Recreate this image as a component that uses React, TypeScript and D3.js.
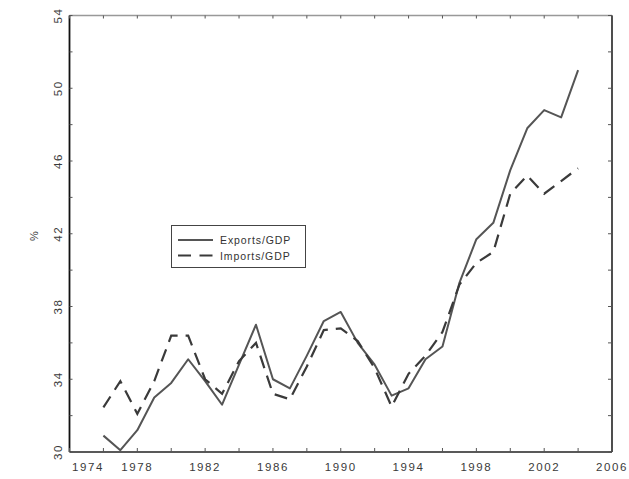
import React, { useRef, useEffect } from 'react';
import * as d3 from 'd3';

const years = [1976, 1977, 1978, 1979, 1980, 1981, 1982, 1983, 1984, 1985, 1986, 1987, 1988, 1989, 1990,
  1991, 1992, 1993, 1994, 1995, 1996, 1997, 1998, 1999, 2000, 2001, 2002, 2003, 2004];
const exportsGdp = [30.9, 30.1, 31.2, 33.0, 33.8, 35.1, 33.9, 32.6, 34.8, 37.0, 34.0, 33.5, 35.3, 37.2, 37.7,
  36.0, 34.8, 33.1, 33.5, 35.1, 35.8, 39.3, 41.7, 42.6, 45.5, 47.8, 48.8, 48.4, 51.0];
const importsGdp = [32.45, 33.9, 32.1, 33.9, 36.4, 36.4, 34.0, 33.2, 35.0, 36.0, 33.2, 32.9, 34.7, 36.7, 36.8,
  36.1, 34.6, 32.5, 34.3, 35.3, 36.6, 39.2, 40.4, 41.0, 44.2, 45.2, 44.2, 44.9, 45.6];
const xTickLabels = [1974, 1978, 1982, 1986, 1990, 1994, 1998, 2002, 2006];
const yTickLabels = [30, 34, 38, 42, 46, 50, 54];
const legendLabels = ['Exports/GDP', 'Imports/GDP'];

export default function App() {
  const ref = useRef<SVGSVGElement>(null);

  useEffect(() => {
    const width = 629;
    const height = 479;
    const m = { left: 69.5, right: 612, top: 15.5, bottom: 452 };
    const x = d3.scaleLinear().domain([1974, 2006]).range([m.left, m.right]);
    const y = d3.scaleLinear().domain([30, 54]).range([m.bottom, m.top]);

    const svg = d3.select(ref.current).attr('width', width).attr('height', height);
    svg.selectAll('*').remove();
    const g = svg.append('g').attr('font-family', '"Liberation Sans", "DejaVu Sans", sans-serif');

    // frame: dark left/bottom/right, light top
    g.append('line').attr('x1', m.left).attr('x2', m.right).attr('y1', m.top).attr('y2', m.top)
      .attr('stroke', '#999').attr('stroke-width', 1.3);
    g.append('line').attr('x1', m.left).attr('x2', m.left).attr('y1', m.top).attr('y2', m.bottom)
      .attr('stroke', '#111').attr('stroke-width', 1.8);
    g.append('line').attr('x1', m.right).attr('x2', m.right).attr('y1', m.top).attr('y2', m.bottom)
      .attr('stroke', '#222').attr('stroke-width', 1.6);
    g.append('line').attr('x1', m.left).attr('x2', m.right).attr('y1', m.bottom).attr('y2', m.bottom)
      .attr('stroke', '#222').attr('stroke-width', 1.6);

    const xMinor = d3.range(1974, 2007, 2);
    const yMinor = d3.range(30, 55, 2);
    const ticks = g.append('g').attr('stroke', '#555').attr('stroke-width', 1);
    xMinor.forEach(v => {
      ticks.append('line').attr('x1', x(v)).attr('x2', x(v)).attr('y1', m.bottom).attr('y2', m.bottom - 4);
      ticks.append('line').attr('x1', x(v)).attr('x2', x(v)).attr('y1', m.top).attr('y2', m.top + 3);
    });
    yMinor.forEach(v => {
      ticks.append('line').attr('x1', m.left).attr('x2', m.left + 3).attr('y1', y(v)).attr('y2', y(v));
      ticks.append('line').attr('x1', m.right).attr('x2', m.right - 4).attr('y1', y(v)).attr('y2', y(v));
    });

    g.append('g').selectAll('text').data(xTickLabels).enter().append('text')
      .attr('x', (d, i) => (i === 0 ? x(d) + 2.5 : x(d)))
      .attr('y', 470.5)
      .attr('text-anchor', (d, i) => (i === 0 ? 'start' : 'middle'))
      .attr('font-size', 11.5).attr('letter-spacing', 1.6).attr('fill', '#3a3a3a')
      .text(d => d);

    g.append('g').selectAll('text').data(yTickLabels).enter().append('text')
      .attr('transform', d => `translate(62,${y(d)}) rotate(-90)`)
      .attr('text-anchor', 'middle')
      .attr('font-size', 11.5).attr('letter-spacing', 1.6).attr('fill', '#3a3a3a')
      .text(d => d);

    g.append('text')
      .attr('transform', 'translate(38,236) rotate(-90)')
      .attr('text-anchor', 'middle').attr('font-size', 11).attr('fill', '#3a3a3a')
      .text('%');

    const line = d3.line<number>().x((d, i) => x(years[i])).y(d => y(d));
    g.append('path').datum(exportsGdp).attr('d', line)
      .attr('fill', 'none').attr('stroke', '#555').attr('stroke-width', 2).attr('stroke-linejoin', 'round');
    g.append('path').datum(importsGdp).attr('d', line)
      .attr('fill', 'none').attr('stroke', '#3a3a3a').attr('stroke-width', 2.2)
      .attr('stroke-dasharray', '13,8');

    // legend
    const lg = g.append('g');
    lg.append('rect').attr('x', 171.5).attr('y', 225.5).attr('width', 134).attr('height', 42)
      .attr('fill', 'white').attr('stroke', '#444').attr('stroke-width', 1);
    lg.append('line').attr('x1', 178).attr('x2', 213).attr('y1', 240).attr('y2', 240)
      .attr('stroke', '#555').attr('stroke-width', 2);
    lg.append('line').attr('x1', 178).attr('x2', 213).attr('y1', 255.5).attr('y2', 255.5)
      .attr('stroke', '#3a3a3a').attr('stroke-width', 2.2).attr('stroke-dasharray', '13,8.5');
    lg.selectAll('text.lab').data(legendLabels).enter().append('text')
      .attr('x', 220).attr('y', (d, i) => 244 + i * 15.5)
      .attr('font-size', 10.5).attr('letter-spacing', 0.9).attr('fill', '#333')
      .text(d => d);
  }, []);

  return (
    <svg ref={ref} style={{ position: 'absolute', left: 0, top: 0, background: 'white' }} />
  );
}
